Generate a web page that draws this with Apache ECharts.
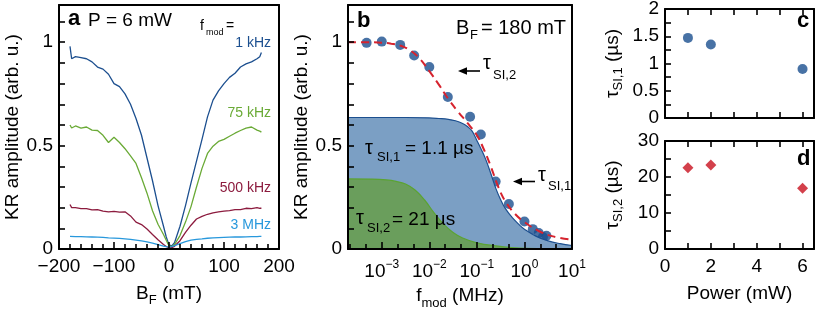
<!DOCTYPE html>
<html>
<head>
<meta charset="utf-8">
<script src="https://cdn.jsdelivr.net/npm/echarts@6/dist/echarts.min.js"></script>
<style>
html,body{margin:0;padding:0;background:#fff;}
#chart{width:830px;height:311px;}
</style>
</head>
<body>
<div id="chart"></div>
<script>
// ---------- Panel a: KR amplitude vs B_F (P = 6 mW) ----------
const bField = [-180,-177,-170,-160,-150,-140,-130,-120,-110,-100,-90,-80,-70,-60,-50,-40,-30,-20,-10,-5,0,5,10,20,30,40,50,60,70,80,90,100,110,120,130,140,150,160,165,168];
const kr1kHz = [0.98,0.92,0.93,0.925,0.92,0.905,0.88,0.87,0.845,0.80,0.785,0.75,0.70,0.631,0.55,0.44,0.33,0.21,0.11,0.058,0.02,0.015,0.03,0.11,0.21,0.32,0.425,0.53,0.639,0.72,0.765,0.80,0.83,0.85,0.88,0.895,0.905,0.92,0.93,0.95];
const kr75kHz = [0.60,0.585,0.595,0.585,0.59,0.575,0.573,0.55,0.515,0.54,0.515,0.485,0.45,0.414,0.345,0.27,0.185,0.12,0.07,0.042,0.015,0.012,0.021,0.065,0.13,0.205,0.30,0.39,0.462,0.497,0.52,0.53,0.545,0.56,0.573,0.585,0.59,0.575,0.57,0.565];
const kr500kHz = [0.215,0.20,0.20,0.195,0.195,0.189,0.19,0.183,0.18,0.182,0.178,0.18,0.16,0.13,0.118,0.097,0.07,0.045,0.022,0.012,0.005,0.006,0.013,0.04,0.08,0.115,0.145,0.158,0.168,0.175,0.18,0.183,0.186,0.19,0.19,0.197,0.195,0.20,0.197,0.197];
const kr3MHz = [0.061,0.061,0.06,0.06,0.059,0.058,0.057,0.056,0.054,0.053,0.051,0.049,0.047,0.043,0.039,0.034,0.028,0.021,0.014,0.011,0.01,0.011,0.016,0.026,0.036,0.043,0.047,0.049,0.052,0.054,0.055,0.056,0.057,0.058,0.058,0.059,0.06,0.06,0.061,0.061];
const aXTickLabels = [-200,-100,0,100,200];
const aYTickLabels = [0,0.5,1];

// ---------- Panel b: KR amplitude vs f_mod (B_F = 180 mT) ----------
const fmodMHz = [0.00048,0.001,0.00244,0.0048,0.01,0.0245,0.072,0.121,0.248,0.47,1.0,1.5,2.0,2.45,2.9];
const krVsFmod = [0.997,1.003,0.987,0.936,0.88,0.735,0.64,0.554,0.326,0.218,0.133,0.096,0.077,0.058,0.064];
// curves read along the log10(f / MHz) axis
const fitExp = [-3.71,-3.3,-3.0,-2.8,-2.6,-2.4,-2.2,-2.0,-1.8,-1.6,-1.4,-1.2,-1.0,-0.85,-0.7,-0.55,-0.4,-0.2,0,0.3,0.6,1.0];
const fitKR  = [1.0,1.0,0.998,0.993,0.983,0.96,0.92,0.86,0.795,0.725,0.665,0.61,0.55,0.48,0.395,0.30,0.23,0.17,0.13,0.087,0.061,0.045];
const comp1Exp = [-3.71,-2.5,-2.0,-1.8,-1.6,-1.45,-1.3,-1.2,-1.1,-1.0,-0.9,-0.8,-0.7,-0.6,-0.5,-0.4,-0.25,-0.1,0,0.25,0.5,0.75,1.0];
const comp1KR  = [0.636,0.636,0.634,0.631,0.627,0.62,0.607,0.592,0.57,0.525,0.478,0.425,0.36,0.292,0.238,0.195,0.15,0.115,0.096,0.061,0.039,0.026,0.017];
const comp2Exp = [-3.71,-3.2,-2.9,-2.7,-2.5,-2.3,-2.1,-1.9,-1.7,-1.5,-1.3,-1.0,-0.6,-0.2,0.4,1.0];
const comp2KR  = [0.339,0.338,0.334,0.327,0.314,0.285,0.237,0.175,0.12,0.08,0.053,0.03,0.015,0.006,0.002,0.001];
const bDecades = [-3,-2,-1,0,1];

// ---------- Panels c, d: fitted times vs power ----------
const powerMW = [1,2,6];
const tauSI1 = [1.47,1.35,0.90];
const tauSI2 = [22.6,23.3,16.9];
const powerTickLabels = [0,2,4,6];

const FONT = '"Liberation Sans", Arial, Helvetica, sans-serif';
const C1 = '#1c4f8f', C75 = '#6aaa36', C500 = '#8c1b3e', C3 = '#2898dc';

const near = (v, list) => list.some(t => Math.abs(v - t) < 1e-6);
const minus = s => String(s).replace('-', '\u2212');

const axLine = {show:true, onZero:false, lineStyle:{color:'#000', width:2}};
const tick = (len) => ({show:true, inside:true, length:len, lineStyle:{color:'#000', width:1.6}});
const minor = (n) => ({show:true, splitNumber:n, length:5, lineStyle:{color:'#000', width:1.6}});
const noTick = {show:false};
function gridBox(l,t,w,h){ return {left:l, top:t, width:w, height:h, show:false, containLabel:false, outerBoundsMode:'none'}; }
const lblBase = {color:'#000', fontFamily:FONT, fontSize:19};

// frame-only axes (top / right edges of each panel)
function frameX(g, min, max){ return {gridIndex:g, type:'value', position:'top', min:min, max:max, z:10, axisLine:axLine, axisTick:noTick, axisLabel:{show:false}, splitLine:{show:false}}; }
function frameY(g, min, max){ return {gridIndex:g, type:'value', position:'right', min:min, max:max, z:10, axisLine:axLine, axisTick:noTick, axisLabel:{show:false}, splitLine:{show:false}}; }

const chart = echarts.init(document.getElementById('chart'), null, {renderer:'canvas'});

const option = {
  animation:false,
  backgroundColor:'#fff',
  textStyle:{fontFamily:FONT},
  grid:[ gridBox(59,5,220,244), gridBox(348,5,224,244), gridBox(665,9,149,109), gridBox(665,141,149,108) ],
  xAxis:[
    { // a
      gridIndex:0, type:'value', min:-200, max:200, interval:100, z:10,
      axisLine:axLine, splitLine:{show:false},
      axisTick:tick(7), minorTick:minor(5),
      axisLabel:{...lblBase, margin:8, lineHeight:20, showMinLabel:true, showMaxLabel:true,
        formatter:v => near(v, aXTickLabels) ? minus(v) : ''},
      name:'{t|B}{s|F}{t| (mT)}', nameLocation:'middle', nameGap:35,
      nameTextStyle:{rich:{t:{fontSize:19, fontFamily:FONT, color:'#000', verticalAlign:'top'}, s:{fontSize:13, fontFamily:FONT, color:'#000', verticalAlign:'top', padding:[10,0,0,0]}}}
    },
    { // b
      gridIndex:1, type:'value', min:-3.71, max:1.0, z:10,
      axisLine:axLine, splitLine:{show:false},
      axisTick:tick(7), minorTick:minor(3),
      axisLabel:{color:'#000', margin:10, showMinLabel:true, showMaxLabel:true,
        formatter:v => { if (!near(v, bDecades)) return ''; const e = Math.round(v); return '{b|10}{s|' + minus(e) + '}'; },
        rich:{b:{fontSize:19, fontFamily:FONT, color:'#000', verticalAlign:'top', padding:[3,0,0,0]}, s:{fontSize:12, fontFamily:FONT, color:'#000', verticalAlign:'top'}}},
      name:'{t|f}{s|mod}{t| (MHz)}', nameLocation:'middle', nameGap:34,
      nameTextStyle:{rich:{t:{fontSize:19, fontFamily:FONT, color:'#000', verticalAlign:'top'}, s:{fontSize:13, fontFamily:FONT, color:'#000', verticalAlign:'top', padding:[11,0,0,0]}}}
    },
    { // c bottom
      gridIndex:2, type:'value', min:0, max:6.5, interval:1, z:10,
      axisLine:axLine, splitLine:{show:false},
      axisTick:tick(6), axisLabel:{show:false}
    },
    { // d bottom
      gridIndex:3, type:'value', min:0, max:6.5, interval:1, z:10,
      axisLine:axLine, splitLine:{show:false},
      axisTick:tick(6),
      axisLabel:{...lblBase, margin:8, lineHeight:20, showMinLabel:true,
        formatter:v => near(v, powerTickLabels) ? String(v) : ''},
      name:'{t|Power (mW)}', nameLocation:'middle', nameGap:35,
      nameTextStyle:{rich:{t:{fontSize:19, fontFamily:FONT, color:'#000', verticalAlign:'top'}}}
    },
    { // c top (ticks)
      gridIndex:2, type:'value', position:'top', min:0, max:6.5, interval:1, z:10,
      axisLine:axLine, splitLine:{show:false},
      axisTick:tick(6), axisLabel:{show:false}
    },
    { // d top (ticks)
      gridIndex:3, type:'value', position:'top', min:0, max:6.5, interval:1, z:10,
      axisLine:axLine, splitLine:{show:false},
      axisTick:tick(6), axisLabel:{show:false}
    },
    frameX(0, -200, 200),
    frameX(1, -3.71, 1.0)
  ],
  yAxis:[
    { // a
      gridIndex:0, type:'value', min:0, max:1.18, interval:0.1, z:10,
      axisLine:axLine, splitLine:{show:false},
      axisTick:tick(6),
      axisLabel:{...lblBase, margin:6, showMinLabel:true,
        formatter:v => near(v, aYTickLabels) ? String(Math.round(v*10)/10) : ''},
      name:'KR amplitude (arb. u.)', nameLocation:'middle', nameGap:37,
      nameTextStyle:{fontSize:19, fontFamily:FONT, color:'#000'}
    },
    { // b
      gridIndex:1, type:'value', min:0, max:1.18, interval:0.1, z:10,
      axisLine:axLine, splitLine:{show:false},
      axisTick:tick(6),
      axisLabel:{...lblBase, margin:6, showMinLabel:true,
        formatter:v => near(v, aYTickLabels) ? String(Math.round(v*10)/10) : ''},
      name:'KR amplitude (arb. u.)', nameLocation:'middle', nameGap:36,
      nameTextStyle:{fontSize:19, fontFamily:FONT, color:'#000'}
    },
    { // c
      gridIndex:2, type:'value', min:0, max:2, interval:0.25, z:10,
      axisLine:axLine, splitLine:{show:false},
      axisTick:tick(6),
      axisLabel:{...lblBase, margin:6, showMinLabel:true, showMaxLabel:true,
        formatter:v => near(v*2, [0,1,2,3,4]) ? String(v) : ''},
      name:'{t|\u03c4}{s|SI,1}{t| (\u00b5s)}', nameLocation:'middle', nameGap:40,
      nameTextStyle:{rich:{t:{fontSize:19, fontFamily:FONT, color:'#000', verticalAlign:'top'}, s:{fontSize:13, fontFamily:FONT, color:'#000', verticalAlign:'top', padding:[9,0,0,0]}}}
    },
    { // d
      gridIndex:3, type:'value', min:0, max:30, interval:5, z:10,
      axisLine:axLine, splitLine:{show:false},
      axisTick:tick(6),
      axisLabel:{...lblBase, margin:6, showMinLabel:true, showMaxLabel:true,
        formatter:v => near(v, [0,10,20,30]) ? String(v) : ''},
      name:'{t|\u03c4}{s|SI,2}{t| (\u00b5s)}', nameLocation:'middle', nameGap:40,
      nameTextStyle:{rich:{t:{fontSize:19, fontFamily:FONT, color:'#000', verticalAlign:'top'}, s:{fontSize:13, fontFamily:FONT, color:'#000', verticalAlign:'top', padding:[9,0,0,0]}}}
    },
    frameY(0, 0, 1.18),
    frameY(1, 0, 1.18),
    frameY(2, 0, 2),
    frameY(3, 0, 30)
  ],
  series:[
    {type:'line', xAxisIndex:0, yAxisIndex:0, symbol:'none', data:bField.map((b,i)=>[b,kr1kHz[i]]), lineStyle:{color:C1, width:1.3}},
    {type:'line', xAxisIndex:0, yAxisIndex:0, symbol:'none', data:bField.map((b,i)=>[b,kr75kHz[i]]), lineStyle:{color:C75, width:1.3}},
    {type:'line', xAxisIndex:0, yAxisIndex:0, symbol:'none', data:bField.map((b,i)=>[b,kr500kHz[i]]), lineStyle:{color:C500, width:1.3}},
    {type:'line', xAxisIndex:0, yAxisIndex:0, symbol:'none', data:bField.map((b,i)=>[b,kr3MHz[i]]), lineStyle:{color:C3, width:1.3}},

    {type:'line', xAxisIndex:1, yAxisIndex:1, symbol:'none', smooth:0.4, data:comp1Exp.map((e,i)=>[e,comp1KR[i]]),
      lineStyle:{color:'#1c4f8f', width:1.2}, areaStyle:{color:'#7b9fc4', opacity:1}},
    {type:'line', xAxisIndex:1, yAxisIndex:1, symbol:'none', smooth:0.4, data:comp2Exp.map((e,i)=>[e,comp2KR[i]]),
      lineStyle:{color:'#5ba332', width:1.2}, areaStyle:{color:'#6a9e5c', opacity:1}},
    {type:'line', xAxisIndex:1, yAxisIndex:1, symbol:'none', smooth:0.4, data:fitExp.map((e,i)=>[e,fitKR[i]]),
      lineStyle:{color:'#d6232e', width:2, type:[8,5]}},
    {type:'scatter', xAxisIndex:1, yAxisIndex:1, symbol:'circle', symbolSize:10, data:fmodMHz.map((f,i)=>[Math.log10(f), krVsFmod[i]]),
      itemStyle:{color:'#1a4f8f'}},

    {type:'scatter', xAxisIndex:2, yAxisIndex:2, symbol:'circle', symbolSize:10, data:powerMW.map((p,i)=>[p,tauSI1[i]]), itemStyle:{color:'#1a4f8f'}},
    {type:'scatter', xAxisIndex:3, yAxisIndex:3, symbol:'diamond', symbolSize:11, data:powerMW.map((p,i)=>[p,tauSI2[i]]), itemStyle:{color:'#c8101e'}}
  ],
  graphic:[]
};

function txt(text, x, y, size, opts){
  opts = opts || {};
  return {type:'text', x:x, y:y, z:100, silent:true,
    style:{text:text, fill:opts.fill||'#000', font:(opts.bold?'bold ':'') + size + 'px ' + FONT, align:opts.align||'left', verticalAlign:'middle'}};
}
function arrow(x1, x2, y){ // line from x1 to arrow tip at x2
  return [
    {type:'line', z:100, silent:true, shape:{x1:x1, y1:y, x2:x2+6, y2:y}, style:{stroke:'#000', lineWidth:1.6}},
    {type:'polygon', z:100, silent:true, shape:{points:[[x2,y],[x2+9,y-3.8],[x2+9,y+3.8]]}, style:{fill:'#000'}}
  ];
}
option.graphic = [
  // panel a
  txt('a', 68, 19, 22, {bold:true}),
  txt('P = 6 mW', 88, 20.5, 19),
  txt('f', 200, 26, 14),
  txt('mod', 206, 33, 9),
  txt('=', 226, 26, 14),
  txt('1 kHz', 271, 42.7, 14, {align:'right', fill:C1}),
  txt('75 kHz', 271, 113.3, 14, {align:'right', fill:C75}),
  txt('500 kHz', 271, 188.3, 14, {align:'right', fill:C500}),
  txt('3 MHz', 271, 225, 14, {align:'right', fill:C3}),
  // panel b
  txt('b', 357, 20.6, 22, {bold:true}),
  txt('B', 456, 28.3, 20),
  txt('F', 470, 35.5, 13),
  txt('= 180 mT', 481, 28.3, 20),
  ...arrow(480, 458, 71),
  txt('\u03c4', 483, 63.3, 20),
  txt('SI,2', 493, 75, 13),
  ...arrow(535, 513, 181.5),
  txt('\u03c4', 538, 175.3, 20),
  txt('SI,1', 548, 186, 13),
  txt('\u03c4', 365, 148.5, 20),
  txt('SI,1', 377, 157.5, 13),
  txt('= 1.1 \u00b5s', 405, 149, 19),
  txt('\u03c4', 356, 218.5, 20),
  txt('SI,2', 367, 228.5, 13),
  txt('= 21 \u00b5s', 392, 220, 19),
  // panels c, d
  txt('c', 797, 20.6, 22, {bold:true}),
  txt('d', 797, 159, 22, {bold:true})
];

chart.setOption(option);
</script>
</body>
</html>
